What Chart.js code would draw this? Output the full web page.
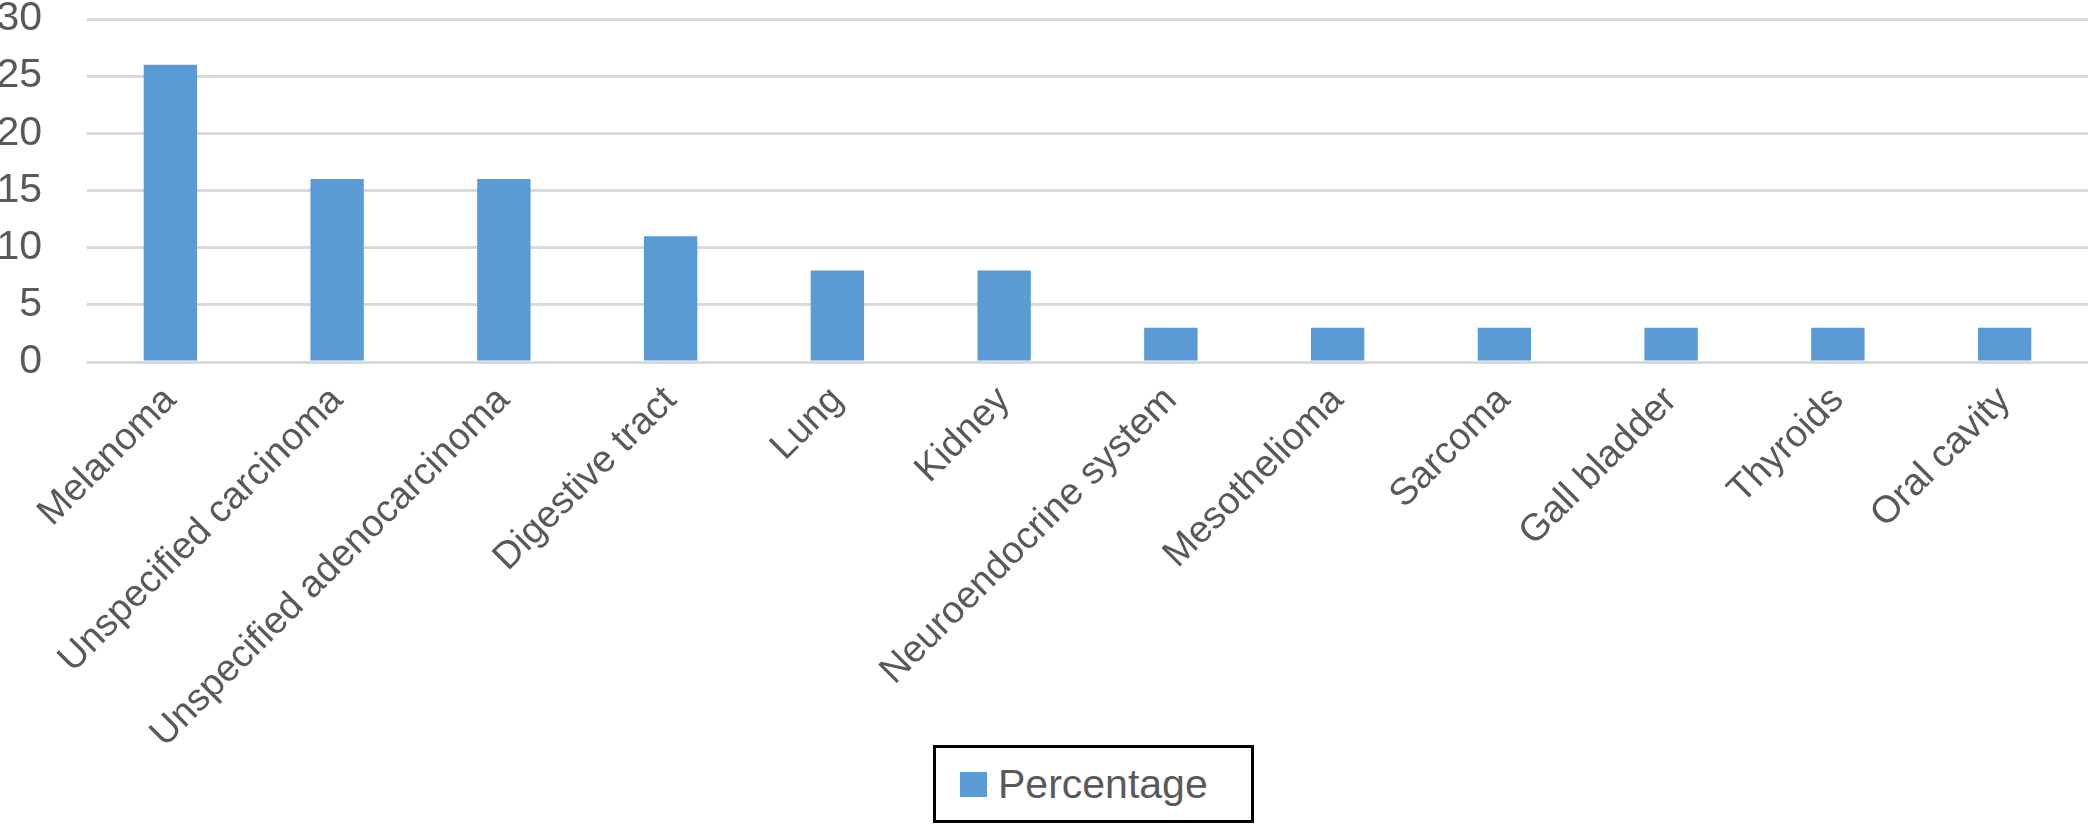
<!DOCTYPE html>
<html>
<head>
<meta charset="utf-8">
<script src="https://cdn.jsdelivr.net/npm/chart.js@4.4.0/dist/chart.umd.min.js"></script>
<style>
  html, body { margin: 0; padding: 0; background: #fff; }
  #wrap { position: relative; width: 2088px; height: 825px; }
  #legend {
    position: absolute; left: 933px; top: 745px; width: 315px; height: 72px;
    border: 3px solid #000; background: #fff;
    font-family: "Liberation Sans", Arial, sans-serif; font-size: 41px; color: #595959;
    display: flex; align-items: center;
  }
  #legend .box { width: 27px; height: 25px; margin-left: 24px; margin-right: 11px; }
</style>
</head>
<body>
<div id="wrap">
  <canvas id="myChart" width="2088" height="825"></canvas>
  <div id="legend"></div>
</div>
<script>
// Dữ liệu
const categories = ['Melanoma', 'Unspecified carcinoma', 'Unspecified adenocarcinoma', 'Digestive tract',
  'Lung', 'Kidney', 'Neuroendocrine system', 'Mesothelioma', 'Sarcoma', 'Gall bladder', 'Thyroids', 'Oral cavity'];
const percentage = [26, 16, 16, 11, 8, 8, 3, 3, 3, 3, 3, 3];
const yTicks = [0, 5, 10, 15, 20, 25, 30];

const textColor = '#595959';
const fontFamily = '"Liberation Sans", Arial, sans-serif';

const ctx = document.getElementById('myChart').getContext('2d');
const chart = new Chart(ctx, {
  type: 'bar',
  data: {
    labels: categories,
    datasets: [{
      label: 'Percentage',
      data: percentage,
      backgroundColor: '#5b9bd5',
      borderWidth: 0,
      barPercentage: 0.32,
      categoryPercentage: 1
    }]
  },
  options: {
    responsive: false,
    devicePixelRatio: 1,
    animation: false,
    layout: { padding: { top: 19, right: 0, left: 0, bottom: 0 } },
    plugins: {
      tooltip: { enabled: false },
      legend: { display: false }
    },
    scales: {
      y: {
        min: 0,
        max: 30,
        afterBuildTicks: function(axis) {
          axis.ticks = yTicks.map(v => ({ value: v }));
        },
        afterFit: function(axis) {
          axis.width = 87;
          axis.paddingTop = 0;
          axis.paddingBottom = 0;
        },
        grid: { color: '#d9d9d9', lineWidth: 3, drawTicks: false },
        border: { display: false },
        ticks: {
          color: textColor,
          font: { family: fontFamily, size: 41 },
          padding: 45,
          autoSkip: false
        }
      },
      x: {
        afterFit: function(axis) { axis.height = 825 - 362; },
        grid: { display: false },
        border: { display: false },
        ticks: {
          color: textColor,
          font: { family: fontFamily, size: 38 },
          minRotation: 45,
          maxRotation: 45,
          padding: 8,
          autoSkip: false
        }
      }
    }
  }
});

// Chú thích HTML có khung viền
const legendEl = document.getElementById('legend');
chart.data.datasets.forEach(function(ds) {
  const box = document.createElement('span');
  box.className = 'box';
  box.style.background = ds.backgroundColor;
  const txt = document.createElement('span');
  txt.textContent = ds.label;
  legendEl.appendChild(box);
  legendEl.appendChild(txt);
});
</script>
</body>
</html>
